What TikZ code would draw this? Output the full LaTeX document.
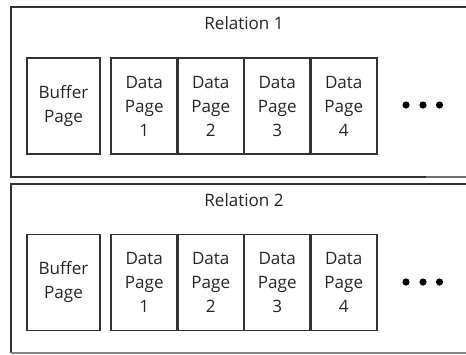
\documentclass[tikz,border=0pt]{standalone}
\usepackage{fontspec}
\setmainfont{Open Sans}
\definecolor{frame}{HTML}{333333}
\definecolor{txt}{HTML}{262626}
\begin{document}
\begin{tikzpicture}[x=0.75pt,y=-0.75pt,
  pagebox/.style={draw=frame,line width=1.4pt,rectangle,inner sep=0pt,
    minimum height=72pt,align=center,text=txt,
    font=\fontsize{12.8pt}{18pt}\selectfont},
  bufbox/.style={pagebox,minimum width=54.75pt},
  databox/.style={pagebox,minimum width=50pt},
  titlelabel/.style={text=txt,inner sep=0pt,font=\fontsize{12.8pt}{14pt}\selectfont},
  outerframe/.style={draw=frame,line width=1.5pt},
  dot/.style={fill=black,circle,inner sep=0pt,minimum size=5.4pt}]
\useasboundingbox (0,0) rectangle (466,354);
\fill[white] (0,0) rectangle (466,354);

% Relation 1
\draw[outerframe] (466,7) -- (11,7) -- (11,177) -- (426,177);
\draw[frame!70,line width=0.9pt] (426,177) -- (466,177);
\node[titlelabel] (t1) at (244,23) {Relation 1};
\node[bufbox] (b1) at (63.5,106) {Buffer\\Page};
\node[databox] (d11) at (144.25,106) {Data\\Page\\1};
\node[databox] (d12) at (210.75,106) {Data\\Page\\2};
\node[databox] (d13) at (277.25,106) {Data\\Page\\3};
\node[databox] (d14) at (343.75,106) {Data\\Page\\4};
\node[dot] (e11) at (406,105) {};
\node[dot] (e12) at (423,105) {};
\node[dot] (e13) at (439.5,105) {};

% Relation 2
\draw[outerframe] (466,184) -- (11,184) -- (11,353);
\draw[frame!60,line width=1.1pt] (11,353) -- (466,353);
\node[titlelabel] (t2) at (244,200) {Relation 2};
\node[bufbox] (b2) at (63.5,282.5) {Buffer\\Page};
\node[databox] (d21) at (144.25,282.5) {Data\\Page\\1};
\node[databox] (d22) at (210.75,282.5) {Data\\Page\\2};
\node[databox] (d23) at (277.25,282.5) {Data\\Page\\3};
\node[databox] (d24) at (343.75,282.5) {Data\\Page\\4};
\node[dot] (e21) at (406,282) {};
\node[dot] (e22) at (423,282) {};
\node[dot] (e23) at (439.5,282) {};
\end{tikzpicture}
\end{document}
